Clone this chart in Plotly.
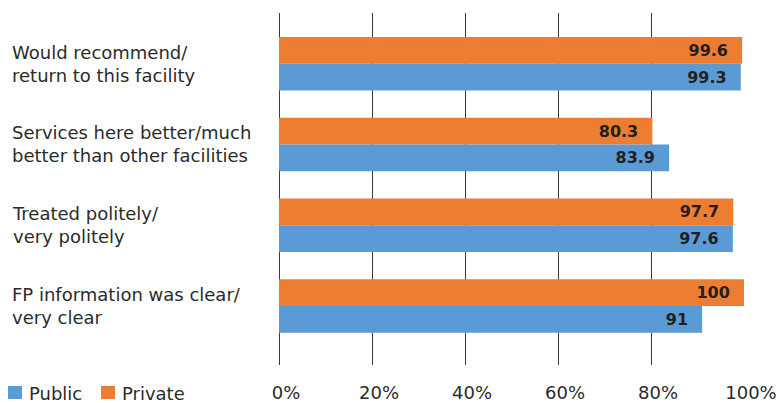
import plotly.graph_objects as go

categories = [
    "Would recommend/<br>return to this facility",
    "Services here better/much<br>better than other facilities",
    "Treated politely/<br>very politely",
    "FP information was clear/<br>very clear",
]
public_vals = [99.3, 83.9, 97.6, 91]
private_vals = [99.6, 80.3, 97.7, 100]
tick_vals = [0, 20, 40, 60, 80, 100]
tick_text = ["0%", "20%", "40%", "60%", "80%", "100%"]
series_names = ["Public", "Private"]

ORANGE = "#ED7D31"
BLUE = "#5B9BD5"
FONT = "DejaVu Sans"
DARK = "#231f20"
TXT = "#2b2b2b"

W, H = 778, 403
ML, MR, MT, MB = 279, 34, 13, 38
PW, PH = W - ML - MR, H - MT - MB


def px_x(p):
    return (p - ML) / PW


def px_y(p):
    return (H - MB - p) / PH


def fmt(v):
    return f"{v:g}"


fig = go.Figure()
fig.add_trace(go.Bar(
    y=categories, x=private_vals, orientation="h", name="Private",
    marker=dict(color=ORANGE, line=dict(width=0)),
    text=[fmt(v) for v in private_vals],
    texttemplate="%{text}\u00a0\u00a0", textposition="inside", insidetextanchor="end",
    textfont=dict(family=FONT, size=16, color=DARK, weight="bold"),
    constraintext="none", showlegend=False,
))
fig.add_trace(go.Bar(
    y=categories, x=public_vals, orientation="h", name="Public",
    marker=dict(color=BLUE, line=dict(width=0)),
    text=[fmt(v) for v in public_vals],
    texttemplate="%{text}\u00a0\u00a0", textposition="inside", insidetextanchor="end",
    textfont=dict(family=FONT, size=16, color=DARK, weight="bold"),
    constraintext="none", showlegend=False,
))

for c in categories:
    fig.add_annotation(
        x=px_x(10), xref="paper", y=c, yref="y", text=c, showarrow=False,
        xanchor="left", yanchor="middle", align="left",
        font=dict(family=FONT, size=18, color=TXT),
    )

# manual legend
legend_items = [(series_names[0], BLUE, 8), (series_names[1], ORANGE, 101)]
for name, col, x0 in legend_items:
    fig.add_shape(
        type="rect", xref="paper", yref="paper",
        x0=px_x(x0), x1=px_x(x0 + 14), y0=px_y(399), y1=px_y(386),
        fillcolor=col, line=dict(width=0),
    )
    fig.add_annotation(
        x=px_x(x0 + 19), xref="paper", y=px_y(393), yref="paper",
        text=name, showarrow=False, xanchor="left", yanchor="middle",
        font=dict(family=FONT, size=18, color=TXT),
    )

fig.update_layout(
    width=W, height=H,
    margin=dict(l=ML, r=MR, t=MT, b=MB, autoexpand=False),
    paper_bgcolor="white", plot_bgcolor="white",
    barmode="group", bargap=0.338, bargroupgap=0,
    font=dict(family=FONT, size=18, color=TXT),
    showlegend=False,
    xaxis=dict(
        range=[0, 100], tickvals=tick_vals, ticktext=tick_text,
        showgrid=True, gridcolor="#3a3a3a", gridwidth=1,
        zeroline=True, zerolinecolor="#3a3a3a", zerolinewidth=1,
        showline=False, ticks="", ticklabelstandoff=15, ticklabelshift=7,
        tickfont=dict(family=FONT, size=18, color=TXT),
        automargin=False, fixedrange=True,
    ),
    yaxis=dict(
        type="category", categoryarray=categories, categoryorder="array",
        range=[3.729, -0.627], showticklabels=False, showgrid=False,
        zeroline=False, showline=False, ticks="", automargin=False, fixedrange=True,
    ),
)

fig.write_html("out.html")
